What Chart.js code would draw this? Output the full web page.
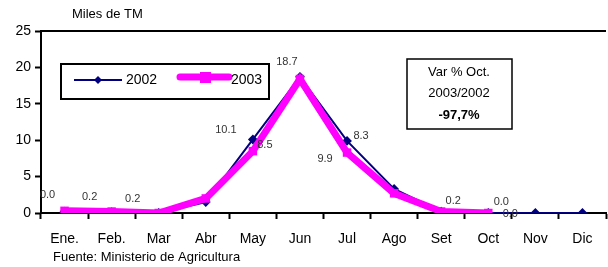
<!DOCTYPE html>
<html>
<head>
<meta charset="utf-8">
<script src="https://cdn.jsdelivr.net/npm/chart.js@4"></script>
<style>
  html, body { margin: 0; padding: 0; background: #fff; overflow: hidden; }
  #wrap { position: relative; width: 612px; height: 267px; }
</style>
</head>
<body>
<div id="wrap"><canvas id="myChart"></canvas></div>
<script>
const months = ['Ene.', 'Feb.', 'Mar', 'Abr', 'May', 'Jun', 'Jul', 'Ago', 'Set', 'Oct', 'Nov', 'Dic'];
const values2002 = [0.2, 0.1, 0.0, 1.5, 10.1, 18.7, 9.9, 3.3, 0.2, 0.0, 0.0, 0.0];
const values2003 = [0.3, 0.2, 0.0, 2.0, 8.5, 18.4, 8.3, 2.7, 0.2, 0.0];
const yTicks = [0, 5, 10, 15, 20, 25];

// value labels: [text, dataset index, point index, dx, dy]
const pointLabels = [
    ['0.0', 1, 0, -17, -16],
    ['0.2', 1, 1, -22, -15],
    ['0.2', 1, 2, -26, -14],
    ['10.1', 0, 4, -27, -10],
    ['8.5', 1, 4, 12, -6],
    ['18.7', 0, 5, -13, -15],
    ['8.3', 0, 6, 14, -5],
    ['9.9', 1, 6, -22, 6],
    ['0.2', 1, 8, 12, -11],
    ['0.0', 1, 9, 13, -11],
    ['0.0', 0, 9, 22, 1]
];

const navy = '#000080';
const pink = '#ff00ff';
const fontName = '"Liberation Sans Narrow", "Liberation Sans", Arial, sans-serif';

// Extra drawing: top border, title, source, legend, note box, value labels
const extras = {
    id: 'extras',
    afterDraw(chart) {
        const ctx = chart.ctx;
        const area = chart.chartArea;
        ctx.save();

        // top frame line
        ctx.strokeStyle = '#000';
        ctx.lineWidth = 2;
        ctx.beginPath();
        ctx.moveTo(area.left - 1, area.top);
        ctx.lineTo(area.right, area.top);
        ctx.stroke();

        ctx.fillStyle = '#000';
        ctx.textBaseline = 'middle';
        ctx.textAlign = 'left';
        ctx.font = '13px ' + fontName;
        ctx.fillText('Miles de TM', 72, 14);
        ctx.fillText('Fuente: Ministerio de Agricultura', 53, 257);

        // legend box
        ctx.lineWidth = 2;
        ctx.strokeRect(61, 64, 208, 35);
        ctx.strokeStyle = navy;
        ctx.lineWidth = 2;
        ctx.beginPath();
        ctx.moveTo(74, 80);
        ctx.lineTo(122, 80);
        ctx.stroke();
        ctx.fillStyle = navy;
        ctx.beginPath();
        ctx.moveTo(98, 76);
        ctx.lineTo(102, 80);
        ctx.lineTo(98, 84);
        ctx.lineTo(94, 80);
        ctx.closePath();
        ctx.fill();
        ctx.strokeStyle = pink;
        ctx.lineWidth = 7;
        ctx.lineCap = 'round';
        ctx.beginPath();
        ctx.moveTo(180, 77);
        ctx.lineTo(229, 77);
        ctx.stroke();
        ctx.lineCap = 'butt';
        ctx.fillStyle = pink;
        ctx.fillRect(200, 72, 11, 11);
        ctx.fillStyle = '#000';
        ctx.font = '14px ' + fontName;
        ctx.fillText('2002', 126, 80);
        ctx.fillText('2003', 231, 80);

        // note box
        ctx.strokeStyle = '#000';
        ctx.lineWidth = 1.5;
        ctx.strokeRect(407, 59, 105, 70);
        ctx.textAlign = 'center';
        ctx.font = '13px ' + fontName;
        ctx.fillText('Var % Oct.', 459, 72);
        ctx.fillText('2003/2002', 459, 93);
        ctx.font = 'bold 13px ' + fontName;
        ctx.fillText('-97,7%', 459, 115);

        // value labels
        ctx.font = '11px ' + fontName;
        ctx.fillStyle = '#333';
        pointLabels.forEach(([text, ds, idx, dx, dy]) => {
            const pt = chart.getDatasetMeta(ds).data[idx];
            ctx.fillText(text, pt.x + dx, pt.y + dy);
        });

        ctx.restore();
    }
};

function drawChart() {
    const data = {
        labels: months,
        datasets: [
            {
                label: '2002',
                data: values2002,
                borderColor: navy,
                backgroundColor: navy,
                borderWidth: 2,
                pointStyle: 'rectRot',
                pointRadius: 3.5,
                tension: 0,
                order: 1
            },
            {
                label: '2003',
                data: values2003,
                borderColor: pink,
                backgroundColor: pink,
                borderWidth: 7,
                pointStyle: 'rect',
                pointRadius: 6,
                pointBorderWidth: 0,
                tension: 0,
                order: 0
            }
        ]
    };

    const config = {
        type: 'line',
        data: data,
        options: {
            responsive: true,
            maintainAspectRatio: false,
            animation: false,
            layout: { padding: { left: 0, right: 2, top: 31, bottom: 0 } },
            plugins: {
                legend: { display: false },
                tooltip: { enabled: false }
            },
            scales: {
                x: {
                    offset: true,
                    grid: {
                        offset: true,
                        drawOnChartArea: false,
                        drawTicks: true,
                        tickLength: 6,
                        tickWidth: 2,
                        tickColor: '#000'
                    },
                    border: { display: true, color: '#000', width: 2 },
                    ticks: {
                        color: '#000',
                        padding: 12,
                        maxRotation: 0,
                        autoSkip: false,
                        font: { family: fontName, size: 14 }
                    },
                    afterFit: (scale) => { scale.height = 54; }
                },
                y: {
                    min: 0,
                    max: 25,
                    afterBuildTicks: (scale) => { scale.ticks = yTicks.map(v => ({ value: v })); },
                    grid: {
                        drawOnChartArea: false,
                        drawTicks: true,
                        tickLength: 6,
                        tickWidth: 2,
                        tickColor: '#000'
                    },
                    border: { display: true, color: '#000', width: 2 },
                    ticks: {
                        color: '#000',
                        padding: 4,
                        font: { family: fontName, size: 14 }
                    },
                    afterFit: (scale) => { scale.width = 41; }
                }
            }
        },
        plugins: [extras]
    };

    new Chart(document.getElementById('myChart'), config);
}

window.onload = drawChart;
</script>
</body>
</html>
